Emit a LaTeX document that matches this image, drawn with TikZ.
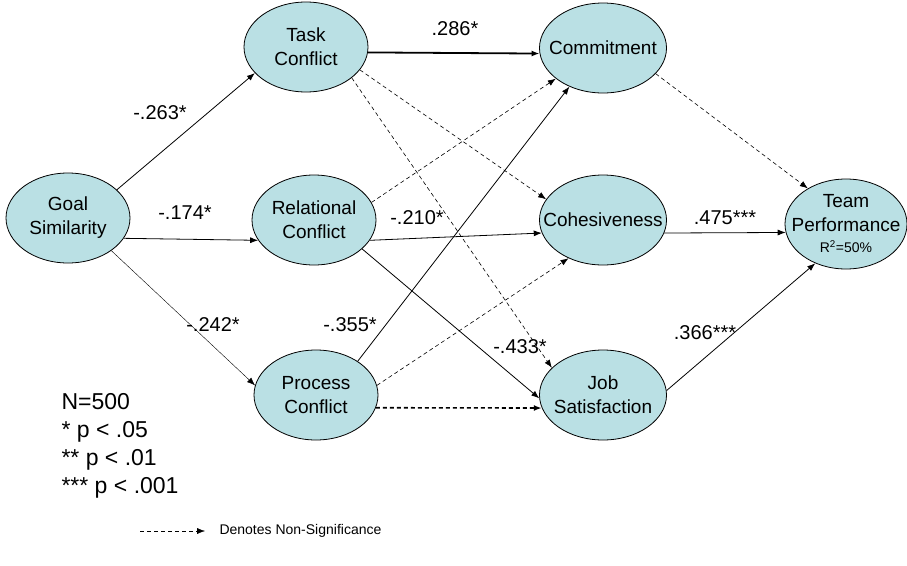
\documentclass[tikz,border=0pt]{standalone}
\usepackage{fontspec}
\setmainfont{Liberation Sans}
\usetikzlibrary{shapes.geometric, arrows.meta}
\tikzstyle{every picture}+=[font=\fontsize{19}{24}\selectfont]
\tikzstyle{construct}=[ellipse, draw, thick, fill=boxblue, minimum width=124pt, minimum height=90pt, inner xsep=-20pt, inner ysep=0pt, align=center]
\tikzstyle{sig}=[draw, thick, -{Latex[length=8pt,width=6pt]}]
\tikzstyle{nonsig}=[sig, semithick, dash pattern=on 4pt off 3pt]
\tikzstyle{coef}=[font=\fontsize{20}{22}\selectfont]

\begin{document}
\begin{tikzpicture}[x=1pt, y=-1pt]
\definecolor{boxblue}{RGB}{186,224,228}
\useasboundingbox (0,0) rectangle (907,565);

%% constructs
\node[construct] (goal) at (68,218) {Goal\\Similarity};
\node[construct] (task) at (306,47) {Task\\Conflict};
\node[construct] (rel) at (314,220) {Relational\\Conflict};
\node[construct] (proc) at (316,395) {Process\\Conflict};
\node[construct, minimum width=127pt] (com) at (603,48) {Commitment};
\node[construct, minimum width=127pt] (coh) at (603,220) {Cohesiveness};
\node[construct, minimum width=127pt] (job) at (603,395) {Job\\Satisfaction};
\node[construct, minimum width=122pt] (team) at (846,224) {Team\\Performance\\[-3pt]{\fontsize{14}{16}\selectfont R\textsuperscript{2}=50\%}};

%% paths
\draw[sig] (goal.30) -- (task.207);
\draw[sig] (goal.-20) -- (rel.200);
\draw[sig, thin] (goal.-37) -- (proc.171);
\draw[sig, line width=1.8pt] (task.-5) -- (com.185);
\draw[nonsig] (task.-23) -- (coh.160);
\draw[nonsig] (task.-34) -- (job.152);
\draw[nonsig] (rel.17) -- (com.213);
\draw[sig] (rel.-20) -- (coh.192);
\draw[sig] (rel.-31) -- (job.183);
\draw[sig] (proc.39) -- (com.229);
\draw[nonsig] (proc.9) -- (coh.228);
\draw[nonsig, line width=1.6pt] (proc.-12) -- (job.192);
\draw[nonsig] (com.-26) -- (team.137);
\draw[sig] (coh.-12) -- (team.188);
\draw[sig] (job.4) -- (team.232);

%% coefficients
\node[coef] (c1) at (160,113) {-.263*};
\node[coef] (c2) at (185,213) {-.174*};
\node[coef] (c3) at (213,325) {-.242*};
\node[coef] (c4) at (455,29) {.286*};
\node[coef] (c5) at (417,218) {-.210*};
\node[coef] (c6) at (350,325) {-.355*};
\node[coef] (c7) at (520,347) {-.433*};
\node[coef] (c8) at (725,218) {.475***};
\node[coef] (c9) at (705,333) {.366***};

%% legend
\node[anchor=north west, align=left, font=\fontsize{23}{28}\selectfont] (notes) at (58,390) {N=500\\* p < .05\\** p < .01\\*** p < .001};
\coordinate (keyA) at (140,531);
\coordinate (keyB) at (205,531);
\draw[nonsig, thin] (keyA) -- (keyB);
\node[anchor=west, font=\fontsize{14}{16}\selectfont] (keytext) at (216,531) {Denotes Non-Significance};
\end{tikzpicture}
\end{document}
